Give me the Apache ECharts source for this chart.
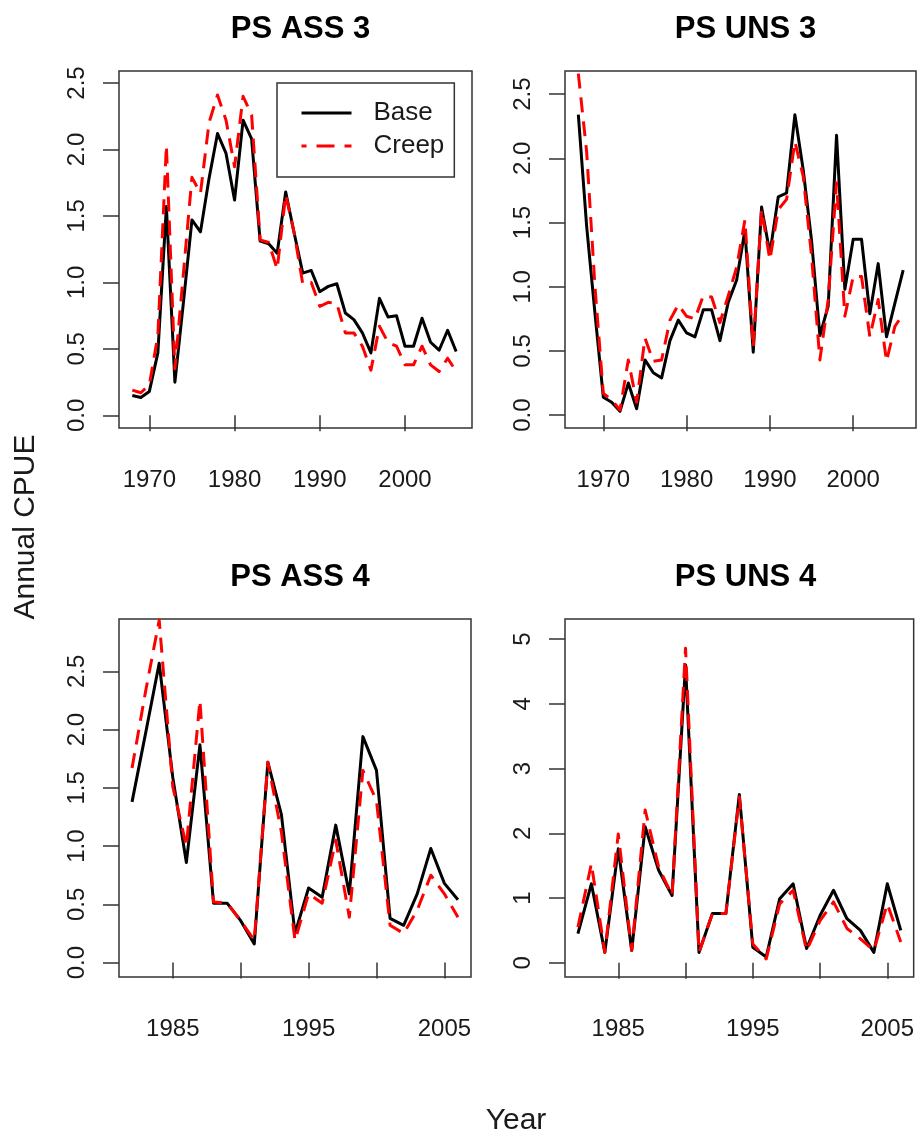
<!DOCTYPE html>
<html>
<head>
<meta charset="utf-8">
<script src="https://cdn.jsdelivr.net/npm/echarts@6/dist/echarts.min.js"></script>
<style>
html,body{margin:0;padding:0;background:#fff;}
#chart{width:917px;height:1141px;}
</style>
</head>
<body>
<div id="chart"></div>
<script>
// ---------- data ----------
const panelTitles = ['PS ASS 3', 'PS UNS 3', 'PS ASS 4', 'PS UNS 4'];
const seriesNames = ['Base', 'Creep'];

const yearsAss3 = [1968,1969,1970,1971,1972,1973,1974,1975,1976,1977,1978,1979,1980,1981,1982,1983,1984,1985,1986,1987,1988,1989,1990,1991,1992,1993,1994,1995,1996,1997,1998,1999,2000,2001,2002,2003,2004,2005,2006];
const baseAss3  = [0.15,0.135,0.18,0.47,1.57,0.25,0.85,1.47,1.38,1.78,2.12,1.97,1.62,2.22,2.08,1.31,1.29,1.22,1.68,1.37,1.07,1.09,0.93,0.97,0.99,0.77,0.72,0.62,0.47,0.88,0.74,0.75,0.52,0.52,0.73,0.55,0.49,0.64,0.48];
const creepAss3 = [0.19,0.17,0.23,0.60,2.03,0.35,1.07,1.79,1.67,2.20,2.41,2.22,1.87,2.40,2.26,1.32,1.30,1.10,1.66,1.37,0.99,1.00,0.82,0.85,0.84,0.62,0.62,0.52,0.34,0.67,0.55,0.52,0.38,0.38,0.52,0.38,0.33,0.43,0.33];

const yearsUns3 = [1967,1968,1969,1970,1971,1972,1973,1974,1975,1976,1977,1978,1979,1980,1981,1982,1983,1984,1985,1986,1987,1988,1989,1990,1991,1992,1993,1994,1995,1996,1997,1998,1999,2000,2001,2002,2003,2004,2005,2006];
const baseUns3  = [2.34,1.47,0.79,0.14,0.10,0.03,0.25,0.05,0.43,0.33,0.29,0.58,0.74,0.64,0.61,0.82,0.82,0.58,0.88,1.05,1.44,0.49,1.62,1.26,1.70,1.73,2.34,1.91,1.36,0.62,0.85,2.18,0.98,1.37,1.37,0.79,1.18,0.61,0.87,1.13];
const creepUns3 = [2.66,2.05,1.00,0.17,0.12,0.04,0.43,0.10,0.60,0.42,0.43,0.74,0.86,0.77,0.75,0.93,0.92,0.72,0.93,1.15,1.52,0.53,1.60,1.21,1.60,1.68,2.13,1.86,1.24,0.43,0.90,1.81,0.77,1.08,1.08,0.61,0.90,0.42,0.69,0.79];

const yearsAss4 = [1982,1983,1984,1985,1986,1987,1988,1989,1990,1991,1992,1993,1994,1995,1996,1997,1998,1999,2000,2001,2002,2003,2004,2005,2006];
const baseAss4  = [1.38,1.97,2.57,1.59,0.86,1.87,0.51,0.51,0.36,0.16,1.72,1.27,0.25,0.64,0.56,1.18,0.59,1.94,1.65,0.38,0.32,0.59,0.98,0.68,0.54];
const creepAss4 = [1.67,2.33,2.94,1.51,1.00,2.25,0.52,0.51,0.36,0.19,1.72,1.12,0.19,0.59,0.51,1.05,0.39,1.65,1.39,0.32,0.25,0.45,0.75,0.59,0.39];

const yearsUns4 = [1982,1983,1984,1985,1986,1987,1988,1989,1990,1991,1992,1993,1994,1995,1996,1997,1998,1999,2000,2001,2002,2003,2004,2005,2006];
const baseUns4  = [0.45,1.22,0.16,1.76,0.19,2.10,1.43,1.04,4.60,0.16,0.76,0.76,2.60,0.24,0.09,0.99,1.22,0.22,0.73,1.12,0.68,0.50,0.16,1.22,0.50];
const creepUns4 = [0.55,1.53,0.16,1.99,0.19,2.36,1.48,1.04,4.86,0.16,0.76,0.76,2.56,0.29,0.06,0.91,1.12,0.19,0.65,0.94,0.53,0.37,0.19,0.91,0.32];

const xTicks3 = [1970,1980,1990,2000];
const xLabels3 = [1970,1980,1990,2000];
const xTicks4 = [1985,1990,1995,2000,2005];
const xLabels4 = [1985,1995,2005];
const yTicksA = [0,0.5,1,1.5,2,2.5];
const yTicksB = [0,1,2,3,4,5];

// ---------- layout ----------
const FONT = 'Liberation Sans, Arial, sans-serif';
const AXC = '#333';
const DASH = [15, 9];
const grids = [
  {left:119, top:71,  width:353, height:357},
  {left:565, top:71,  width:351, height:357},
  {left:119, top:619, width:352, height:358},
  {left:565, top:619, width:351, height:358}
];
const xRanges = [[1966.44,2007.86],[1965.4,2007.54],[1981.04,2006.96],[1981.04,2006.96]];
const yRanges = [[-0.095,2.59],[-0.10,2.68],[-0.124,2.95],[-0.22,5.31]];
const xTickSets = [xTicks3, xTicks3, xTicks4, xTicks4];
const xLabelSets = [xLabels3, xLabels3, xLabels4, xLabels4];
const yTickSets = [yTicksA, yTicksA, yTicksA, yTicksB];
const yFmt = [v=>v.toFixed(1), v=>v.toFixed(1), v=>v.toFixed(1), v=>String(v)];
const panelData = [
  [yearsAss3, baseAss3, creepAss3],
  [yearsUns3, baseUns3, creepUns3],
  [yearsAss4, baseAss4, creepAss4],
  [yearsUns4, baseUns4, creepUns4]
];

const xAxes = [], yAxes = [], series = [], titles = [];
grids.forEach((g, i) => {
  g.show = true; g.borderColor = AXC; g.borderWidth = 1.5; g.backgroundColor = 'transparent';
  g.containLabel = false;
  xAxes.push({
    type:'value', gridIndex:i, min:xRanges[i][0], max:xRanges[i][1],
    axisLine:{show:false}, splitLine:{show:false},
    axisTick:{show:true, inside:false, length:16, customValues:xTickSets[i], lineStyle:{color:AXC, width:1.5}},
    axisLabel:{show:true, customValues:xLabelSets[i], formatter:v=>String(v), margin:40,
      fontSize:24, fontFamily:FONT, color:'#1a1a1a'}
  });
  yAxes.push({
    type:'value', gridIndex:i, min:yRanges[i][0], max:yRanges[i][1],
    axisLine:{show:false}, splitLine:{show:false},
    axisTick:{show:true, inside:false, length:16, customValues:yTickSets[i], lineStyle:{color:AXC, width:1.5}},
    axisLabel:{show:true, customValues:yTickSets[i], formatter:yFmt[i], rotate:90, margin:30,
      fontSize:24, fontFamily:FONT, color:'#1a1a1a'}
  });
  const [yrs, base, creep] = panelData[i];
  series.push({
    name:seriesNames[0], type:'line', xAxisIndex:i, yAxisIndex:i,
    data: yrs.map((y,k)=>[y, base[k]]),
    symbol:'none', showSymbol:false, clip:true, animation:false,
    lineStyle:{color:'#000', width:3, join:'round', cap:'butt'},
    itemStyle:{color:'#000'}
  });
  series.push({
    name:seriesNames[1], type:'line', xAxisIndex:i, yAxisIndex:i,
    data: yrs.map((y,k)=>[y, creep[k]]),
    symbol:'none', showSymbol:false, clip:true, animation:false,
    lineStyle:{color:'#ff0000', width:3, type:DASH, join:'round', cap:'butt'},
    itemStyle:{color:'#ff0000'}
  });
  titles.push({
    text:panelTitles[i], left:g.left + g.width/2, top:g.top - 62, textAlign:'center',
    textStyle:{fontSize:31, fontWeight:'bold', fontFamily:FONT, color:'#000'}
  });
});

const option = {
  animation:false,
  backgroundColor:'#fff',
  title: titles,
  grid: grids,
  xAxis: xAxes,
  yAxis: yAxes,
  series: series,
  legend: {
    data: [
      {name: seriesNames[0]},
      {name: seriesNames[1], lineStyle:{type:[18,10], dashOffset:13, width:3}}
    ],
    orient:'vertical', left:277, top:83,
    borderColor:AXC, borderWidth:1.5, borderRadius:0,
    padding:[15,10,16,23], itemWidth:50, itemHeight:20, itemGap:3,
    selectedMode:false,
    itemStyle:{color:'transparent', borderColor:'transparent', borderWidth:0, opacity:0},
    lineStyle:{width:3},
    textStyle:{fontSize:26, fontFamily:FONT, color:'#1a1a1a', lineHeight:30, padding:[0,0,0,17]}
  },
  graphic: [
    {type:'text', x:26, y:527, rotation:Math.PI/2,
     style:{text:'Annual CPUE', font:'30px ' + FONT, fill:'#1a1a1a', textAlign:'center', textVerticalAlign:'middle'}},
    {type:'text', x:516, y:1121,
     style:{text:'Year', font:'30px ' + FONT, fill:'#1a1a1a', textAlign:'center', textVerticalAlign:'middle'}}
  ]
};

const chart = echarts.init(document.getElementById('chart'), null, {renderer:'canvas'});
chart.setOption(option);
</script>
</body>
</html>
